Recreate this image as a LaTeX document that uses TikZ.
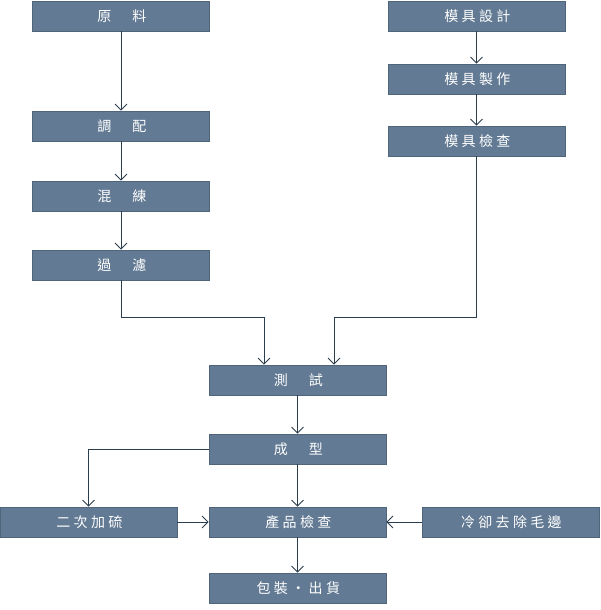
\documentclass[tikz,border=0pt]{standalone}
\usepackage{fontspec}
\newfontfamily\cjk[LetterSpace=24]{Noto Sans CJK TC}
\usepackage{tikz}
\usetikzlibrary{arrows.meta,positioning,calc}
\usepackage{xcolor}
\definecolor{slate}{RGB}{98,122,147}
\definecolor{slateedge}{RGB}{80,100,122}
\definecolor{wire}{RGB}{42,62,78}
\tikzset{
  proc/.style={rectangle,fill=slate,draw=slateedge,line width=0.4pt,
    minimum width=132.75pt,minimum height=22.5pt,inner sep=0pt,
    text=white,font=\cjk\fontsize{10.5}{12}\selectfont,
    execute at begin node=\hspace{0.12em}},
  arr/.style={-{Straight Barb[length=4.5pt,width=9pt]},draw=wire,line width=0.75pt},
}
\newcommand{\gap}{\hspace{1.5em}}

\begin{document}
\begin{tikzpicture}[x=0.75pt, y=-0.75pt]
\useasboundingbox (0,0) rectangle (600,610);
% material line
\node[proc] (raw) at (121,16) {原\gap 料};
\node[proc] (mix) at (121,126) {調\gap 配};
\node[proc] (knead) at (121,196) {混\gap 練};
\node[proc] (filt) at (121,265) {過\gap 濾};
% mould line
\node[proc] (mdes) at (476.5,16) {模具設計};
\node[proc] (mmak) at (476.5,79) {模具製作};
\node[proc] (mchk) at (476.5,141) {模具檢查};
% main line
\node[proc] (test) at (297.5,380) {測\gap 試};
\node[proc] (form) at (297.5,449) {成\gap 型};
\node[proc] (pchk) at (297.5,522) {產品檢查};
\node[proc] (vulc) at (88.5,522) {二次加硫};
\node[proc] (cool) at (510.5,522) {冷卻去除毛邊};
\node[proc] (ship) at (297.5,588) {包裝・出貨};
\coordinate (jl) at (264,317);
\coordinate (jr) at (334,317);

\draw[arr] (raw) -- (mix);
\draw[arr] (mix) -- (knead);
\draw[arr] (knead) -- (filt);
\draw[arr] (mdes) -- (mmak);
\draw[arr] (mmak) -- (mchk);
\draw[arr] (filt) |- (jl) -- (jl |- test.north);
\draw[arr] (mchk) |- (jr) -- (jr |- test.north);
\draw[arr] (test) -- (form);
\draw[arr] (form) -- (pchk);
\draw[arr] (form) -| (vulc);
\draw[arr] (vulc) -- (pchk);
\draw[arr] (cool) -- (pchk);
\draw[arr] (pchk) -- (ship);
\end{tikzpicture}
\end{document}
